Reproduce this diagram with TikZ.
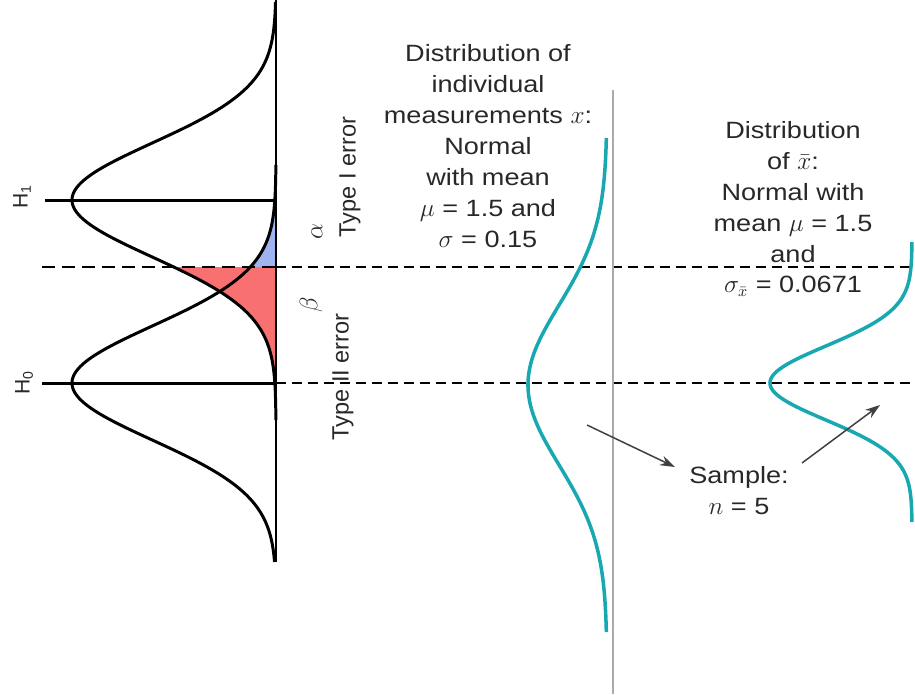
\documentclass[tikz,border=0pt]{standalone}
\usepackage{fontspec}
\setmainfont{Liberation Sans}[FakeStretch=1.15]
\newfontfamily\rotfont{Liberation Sans}
\usetikzlibrary{arrows.meta}
\definecolor{tealc}{RGB}{24,168,178}
\definecolor{redfill}{RGB}{248,112,112}
\definecolor{bluefill}{RGB}{160,178,240}
\definecolor{txt}{RGB}{40,40,40}
\definecolor{vgray}{RGB}{170,170,170}
\begin{document}
\begin{tikzpicture}[x=0.02cm,y=-0.02cm,
  curve/.style={line width=1.7pt, black},
  tcurve/.style={line width=2pt, tealc},
  thickdash/.style={line width=1.6pt, dash pattern=on 7.4pt off 4pt},
  thindash/.style={line width=1.1pt, dash pattern=on 5.7pt off 3.4pt},
  lbl/.style={font=\fontsize{13.4}{17.6}\selectfont, text=txt, align=center, inner sep=0pt},
  rlbl/.style={font=\rotfont\fontsize{13.4}{16}\selectfont, text=txt, rotate=90, inner sep=0pt},
  arr/.style={-{Stealth[length=8.5pt,width=5.7pt]}, line width=0.85pt, draw=black!75}]
\useasboundingbox (0,0) rectangle (915,694);

% shaded error areas
\fill[redfill] plot[domain=267:392, samples=80, variable=\t]
  ({276-204*exp(-0.5*((\t-200)/57)^2)},\t) -- (276,267) -- cycle;
\fill[bluefill] plot[domain=267:185, samples=80, variable=\t]
  ({276-204*exp(-0.5*((\t-383)/57)^2)},\t) -- (276,267) -- cycle;

% left distributions
\draw[curve] plot[domain=2:420, samples=200, variable=\t, smooth]
  ({276-204*exp(-0.5*((\t-200)/57)^2)},\t);
\draw[curve] plot[domain=165:562, samples=200, variable=\t, smooth]
  ({276-204*exp(-0.5*((\t-383)/57)^2)},\t);
\draw[curve] (276,0) -- (276,562);
\draw[curve] (45,200) -- (276,200);
\draw[curve] (42,383) -- (276,383);

% dashed critical lines
\draw[thickdash] (42,267) -- (276,267);
\draw[thindash] (276,267) -- (915,267);
\draw[thindash] (276,383) -- (915,383);

% gray separator
\draw[vgray, line width=1pt] (613,90) -- (613,694);

% teal distributions
\draw[tcurve] plot[domain=138:632, samples=200, variable=\t, smooth]
  ({607-79*exp(-0.5*((\t-385)/80)^2)},\t);
\draw[tcurve] plot[domain=242:522, samples=200, variable=\t, smooth]
  ({912-142*exp(-0.5*((\t-383)/37)^2)},\t);

% labels
\node[rlbl, font=\rotfont\fontsize{12}{14}\selectfont] (h1) at (22,197) {H\textsubscript{1}};
\node[rlbl, font=\rotfont\fontsize{12}{14}\selectfont] (h0) at (24,383) {H\textsubscript{0}};
\node[rlbl] (alpha) at (317,232) {$\alpha$};
\node[rlbl] (type1) at (350,177) {Type I error};
\node[rlbl] (beta) at (311,305) {$\beta$};
\node[rlbl] (type2) at (343,377) {Type II error};

\node[lbl] (dist1) at (488,146) {Distribution of\\individual\\measurements $x$:\\Normal\\with mean\\$\mu$ = 1.5 and\\$\sigma$ = 0.15};
\node[lbl] (dist2) at (793,209) {Distribution\\of $\bar{x}$:\\Normal with\\mean $\mu$ = 1.5\\and\\$\sigma_{\bar{x}}$ = 0.0671};
\node[lbl] (sample) at (739,491) {Sample:\\$n$ = 5};

% arrows
\coordinate (a1s) at (587,425);
\coordinate (a1e) at (675,467);
\coordinate (a2s) at (802,463);
\coordinate (a2e) at (880,405);
\draw[arr] (a1s) -- (a1e);
\draw[arr] (a2s) -- (a2e);
\end{tikzpicture}
\end{document}
